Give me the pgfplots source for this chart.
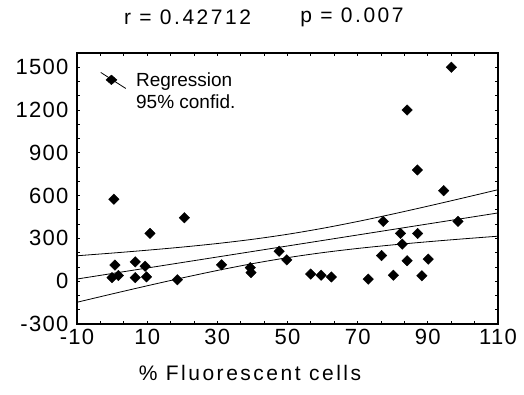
\documentclass[border=0pt]{standalone}
\usepackage{fontspec}
\setmainfont{Liberation Sans}
\newfontfamily\widefont[LetterSpace=12]{Liberation Sans}
\newfontfamily\tickfont[LetterSpace=6]{Liberation Sans}
\usepackage{pgfplots}
\pgfplotsset{compat=1.18}
\begin{document}
\begin{tikzpicture}
\begin{axis}[
  at={(0pt,0pt)}, anchor=south west,
  width=421pt, height=271pt, scale only axis,
  xmin=-10, xmax=110, ymin=-300, ymax=1600,
  xtick={-10,10,...,110}, xticklabels={-10,10,30,50,70,90,110},
  ytick={-300,0,...,1500}, yticklabels={-300,0,300,600,900,1200,1500},
  minor x tick num=2, minor y tick num=2,
  tick align=inside, major tick length=3pt, minor tick length=3pt,
  axis line style={line width=1.2pt},
  every tick/.style={black, line width=0.8pt},
  tick label style={font=\fontsize{22}{26}\tickfont},
  xticklabel style={yshift=-2pt},
  yticklabel style={xshift=-5pt},
  legend style={at={(0.055,0.935)}, anchor=north west, draw=none, fill=none,
    font=\fontsize{19}{22}\selectfont, row sep=3pt, inner sep=0pt,
    /tikz/every odd column/.append style={column sep=8pt}},
  legend cell align=left,
]
\addlegendimage{legend image code/.code={
    \draw[black, line width=0.8pt] (0pt,8pt) -- (25pt,-8pt);
    \fill[black] (10.7pt,0.6pt) +(0pt,4.8pt) -- +(5.5pt,0pt) -- +(0pt,-4.8pt) -- +(-5.5pt,0pt) -- cycle;
  }}
\addlegendentry{Regression}
\addlegendimage{legend image code/.code={\path[draw=none, fill=none] (0pt,0pt) -- (25pt,0pt);}}
\addlegendentry{95\% confid.}
\addplot[only marks, mark=square*, mark size=3.7pt, mark options={rotate=45, fill=black, draw=black}, forget plot]
  coordinates {
  (0.5,575) (20.6,445) (10.8,335) (0.8,113) (6.6,135) (9.4,105) (0,25) (1.8,40)
  (6.6,25) (9.8,30) (18.6,10) (31.2,115) (39.4,95) (39.6,60) (47.6,210) (49.8,150)
  (56.6,50) (59.6,42) (62.5,30) (73,15) (76.8,180) (77.3,420) (80.2,42) (87,780)
  (94.5,635) (98.6,420) (82.2,335) (87.1,335) (82.7,260) (84.1,144) (90.1,155) (88.3,38)
  (96.7,1500) (84.1,1200)
  };
\addplot[black, line width=0.8pt, smooth, forget plot]
  coordinates {
  (-10,178.4) (0,197.2) (10,217.3) (20,239.3) (30,264.3) (40,293.7) (50,329)
  (60,370.9) (70,418.7) (80,470.9) (90,526.1) (100,583.2) (110,641.6)
  };
\addplot[black, line width=0.8pt, forget plot]
  coordinates {(-10,15.4) (110,478.6)};
\addplot[black, line width=0.8pt, smooth, forget plot]
  coordinates {
  (-10,-147.6) (0,-89.2) (10,-32.1) (20,23.1) (30,75.3) (40,123.1) (50,165)
  (60,200.3) (70,229.7) (80,254.7) (90,276.7) (100,296.8) (110,315.6)
  };
\end{axis}
\node[font=\fontsize{21}{25}\widefont] at (110.5pt,307pt) {r = 0.42712};
\node[font=\fontsize{21}{25}\widefont] at (275pt,307pt) {p = 0.007};
\node[font=\fontsize{21}{25}\widefont] at (173pt,-49pt) {\% Fluorescent cells};
\path[use as bounding box] (-77pt,-70pt) rectangle (447pt,324pt);
\end{tikzpicture}
\end{document}
